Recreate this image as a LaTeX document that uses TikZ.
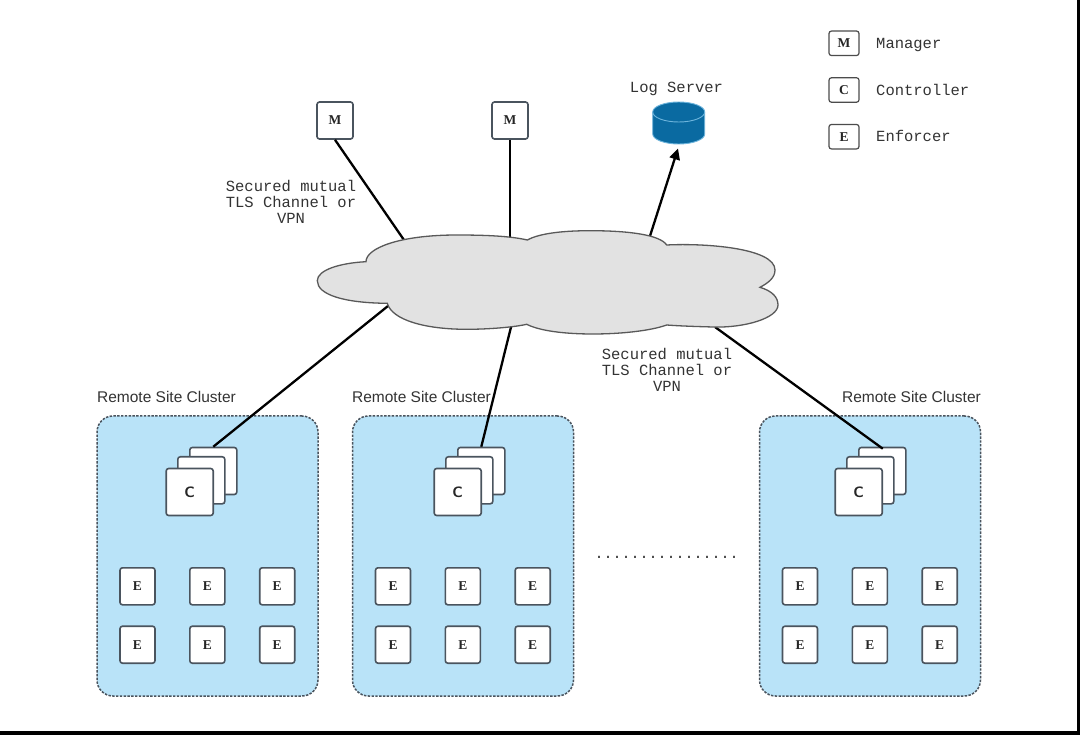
\documentclass[tikz,border=0pt]{standalone}
\usepackage{fontspec}
\setmainfont{Liberation Sans}
\newfontfamily\monof{Liberation Mono}
\newfontfamily\seriff{Liberation Serif}
\usetikzlibrary{arrows.meta}
\definecolor{clusterblue}{HTML}{B9E3F8}
\definecolor{edgegrey}{HTML}{4A545E}
\definecolor{cloudgrey}{HTML}{E2E2E2}
\definecolor{dbblue}{HTML}{0A6AA1}
\definecolor{dbedge}{HTML}{6DB4DC}
\tikzset{
  x=1pt,y=-1pt,
  cluster/.style={draw=edgegrey,fill=clusterblue,line width=1.5pt,dash pattern=on 2.4pt off 1.4pt,rounded corners=16pt,minimum width=221pt,minimum height=280pt,inner sep=0pt},
  unitbox/.style={draw=edgegrey,fill=white,line width=1.6pt,rounded corners=2.5pt,minimum width=35pt,minimum height=37pt,inner sep=0pt,font=\seriff\bfseries\fontsize{13.5}{15}\selectfont,text=black!85},
  legendbox/.style={unitbox,draw=black!70,line width=1.2pt,minimum width=30pt,minimum height=24.5pt},
  stackbox/.style={draw=edgegrey,fill=white,line width=1.6pt,rounded corners=2.5pt,minimum width=47pt,minimum height=47pt,inner sep=0pt,font=\sffamily\bfseries\fontsize{15}{17}\selectfont,text=black!85},
  monotext/.style={font=\monof\fontsize{15.5}{16.2}\selectfont,text=black!80,align=center,inner sep=0pt},
  sitetext/.style={font=\fontsize{15.5}{18}\selectfont,text=black!80,inner sep=0pt},
  link/.style={line width=2.3pt,draw=black},
}
\newcommand{\clusterat}[4]{% name, x offset of cluster, x offset of stack, label centre
  \node[cluster] (#1box) at (207.5+#2,556) {};
  \node[sitetext] (#1lab) at (#4,397) {Remote Site Cluster};
  \node[stackbox] (#1c3) at (213.3+#3,471) {};
  \node[stackbox] (#1c2) at (201.3+#3,480.3) {};
  \node[stackbox] (#1c1) at (189.7+#3,492) {C};
  \foreach \cx/\cn in {137.5/a,207.3/b,277.2/c}{
    \node[unitbox] (#1r\cn) at (\cx+#2,586.3) {E};
    \node[unitbox] (#1s\cn) at (\cx+#2,644.7) {E};
  }
}
\begin{document}
\begin{tikzpicture}
\useasboundingbox (0,0) rectangle (1080,735);
\fill[white] (0,0) rectangle (1080,735);
% anchor points on the cloud
\coordinate (cm1) at (404,240);
\coordinate (cm2) at (510,238);
\coordinate (clog) at (650,236);
\coordinate (cl) at (388,306);
\coordinate (cm) at (511,327);
\coordinate (cr) at (715,327);
\coordinate (dbtip) at (678,148.5);
% managers and log server
\node[unitbox,minimum width=36pt] (m1) at (335,120.5) {M};
\node[unitbox,minimum width=36pt] (m2) at (510,120.5) {M};
\draw[draw=dbedge,fill=dbblue,line width=0.9pt]
  (652.7,112) arc[start angle=180,end angle=360,x radius=26,y radius=10]
  -- (704.7,134) arc[start angle=0,end angle=180,x radius=26,y radius=10] -- cycle;
\draw[dbedge,line width=0.9pt] (652.7,112) arc[start angle=180,end angle=0,x radius=26,y radius=10];
\node[monotext] (logl) at (676.5,89) {Log Server};
\draw[link] (m1.south) -- (cm1);
\draw[link] (m2.south) -- (cm2);
\draw[link,-{Triangle[length=11pt,width=10.5pt]}] (clog) -- (dbtip);
% clusters
\clusterat{a}{0}{0}{166.5}
\clusterat{b}{255.5}{268}{421.5}
\clusterat{d}{662.5}{669}{911.5}
% connectors to stacks
\draw[link] (cl) -- (ac3.north);
\draw[link] (cm) -- (bc3.north);
\draw[link] (cr) -- ([xshift=0.5pt,yshift=-2pt]dc3.north);
% cloud
\draw[fill=cloudgrey,draw=black!65,line width=1.3pt]
  (317.3,280.7) .. controls (317.3,270) and (340,263) .. (366,261.7)
  .. controls (366,248) and (400,235) .. (456.7,235)
  .. controls (485,235) and (510,236) .. (527.3,240)
  .. controls (540,233) and (565,230.7) .. (590,230.7)
  .. controls (630,230.7) and (660,235) .. (666.7,245)
  .. controls (705,243) and (775,248) .. (775,270)
  .. controls (775,278) and (768,283) .. (760,287.3)
  .. controls (772,291) and (778,297) .. (778,305)
  .. controls (778,318) and (745,328) .. (713,327)
  .. controls (695,326.5) and (680,326) .. (666.7,325)
  .. controls (650,331) and (620,334) .. (593,334)
  .. controls (565,334) and (540,331) .. (526.7,324.3)
  .. controls (515,327) and (490,329.3) .. (466.7,329.3)
  .. controls (425,329.3) and (392,320) .. (387.3,303.3)
  .. controls (345,303) and (317.3,295) .. (317.3,280.7) -- cycle;
% labels
\node[monotext] (tls1) at (291,202) {Secured mutual\\TLS Channel or\\VPN};
\node[monotext] (tls2) at (667,370) {Secured mutual\\TLS Channel or\\VPN};
\node[monotext,font=\monof\fontsize{15}{16}\selectfont] (dots) at (666.7,557) {................};
% legend
\node[legendbox] (lm) at (844,43.3) {M};
\node[legendbox] (lc) at (844,90) {C};
\node[legendbox] (le) at (844,136.7) {E};
\node[monotext,anchor=base west] (lmt) at (876,48.3) {Manager};
\node[monotext,anchor=base west] (lct) at (876,95.3) {Controller};
\node[monotext,anchor=base west] (let) at (876,141.7) {Enforcer};
% frame bars
\fill[black] (0,731) rectangle (1080,735);
\fill[black] (1077,0) rectangle (1080,735);
\end{tikzpicture}
\end{document}
